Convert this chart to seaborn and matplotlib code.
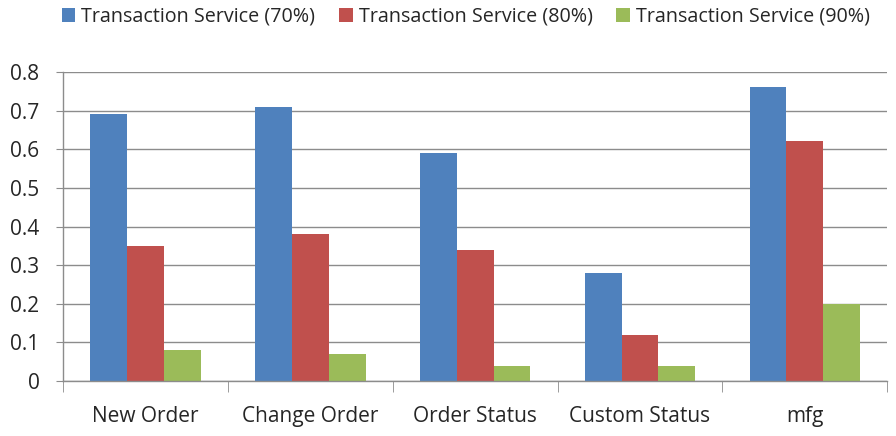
import matplotlib
matplotlib.use("Agg")
import matplotlib.pyplot as plt
import numpy as np
import pandas as pd
import seaborn as sns

categories = ["New Order", "Change Order", "Order Status", "Custom Status", "mfg"]
series_names = [
    "Transaction Service (70%)",
    "Transaction Service (80%)",
    "Transaction Service (90%)",
]
values_70 = [0.69, 0.71, 0.59, 0.28, 0.76]
values_80 = [0.35, 0.38, 0.34, 0.12, 0.62]
values_90 = [0.08, 0.07, 0.04, 0.04, 0.20]
y_ticks = [0, 0.1, 0.2, 0.3, 0.4, 0.5, 0.6, 0.7, 0.8]
y_tick_labels = ["0", "0.1", "0.2", "0.3", "0.4", "0.5", "0.6", "0.7", "0.8"]

colors = ["#4F81BD", "#C0504D", "#9BBB59"]

df = pd.DataFrame(
    {
        "category": categories * 3,
        "series": [series_names[0]] * 5 + [series_names[1]] * 5 + [series_names[2]] * 5,
        "value": values_70 + values_80 + values_90,
    }
)

sns.set_style("white")
plt.rcParams["font.family"] = ["Open Sans", "DejaVu Sans"]

fig = plt.figure(figsize=(8.96, 4.36), dpi=100)
ax = fig.add_axes([0.0703, 0.126, 0.92, 0.709])

sns.barplot(
    data=df,
    x="category",
    y="value",
    hue="series",
    order=categories,
    hue_order=series_names,
    palette=colors,
    width=0.67,
    saturation=1,
    linewidth=0,
    ax=ax,
)

grid_color = "#8C8C8C"
ax.set_ylim(0, 0.8)
ax.set_xlim(-0.5, len(categories) - 0.5)
ax.set_yticks(y_ticks)
ax.set_yticklabels(y_tick_labels)
ax.yaxis.grid(True, color=grid_color, linewidth=1)
ax.set_axisbelow(True)

for side in ["top", "right"]:
    ax.spines[side].set_visible(False)
for side in ["left", "bottom"]:
    ax.spines[side].set_color(grid_color)
    ax.spines[side].set_linewidth(1)

ax.tick_params(axis="y", length=5, color=grid_color, labelsize=15, pad=12, left=True)
ax.set_xticks(np.arange(-0.5, len(categories)), minor=True)
ax.tick_params(axis="x", which="major", length=0, labelsize=15, pad=18)
ax.tick_params(axis="x", which="minor", length=8, color=grid_color, bottom=True)

ax.set_xlabel("")
ax.set_ylabel("")

handles, labels = ax.get_legend_handles_labels()
ax.legend_.remove()
fig.legend(
    handles,
    labels,
    loc="upper center",
    bbox_to_anchor=(0.52, 1.025),
    ncol=3,
    frameon=False,
    fontsize=14.2,
    handlelength=0.7,
    handleheight=0.7,
    handletextpad=0.3,
    columnspacing=1.2,
)

fig.savefig("out.png", dpi=100)
